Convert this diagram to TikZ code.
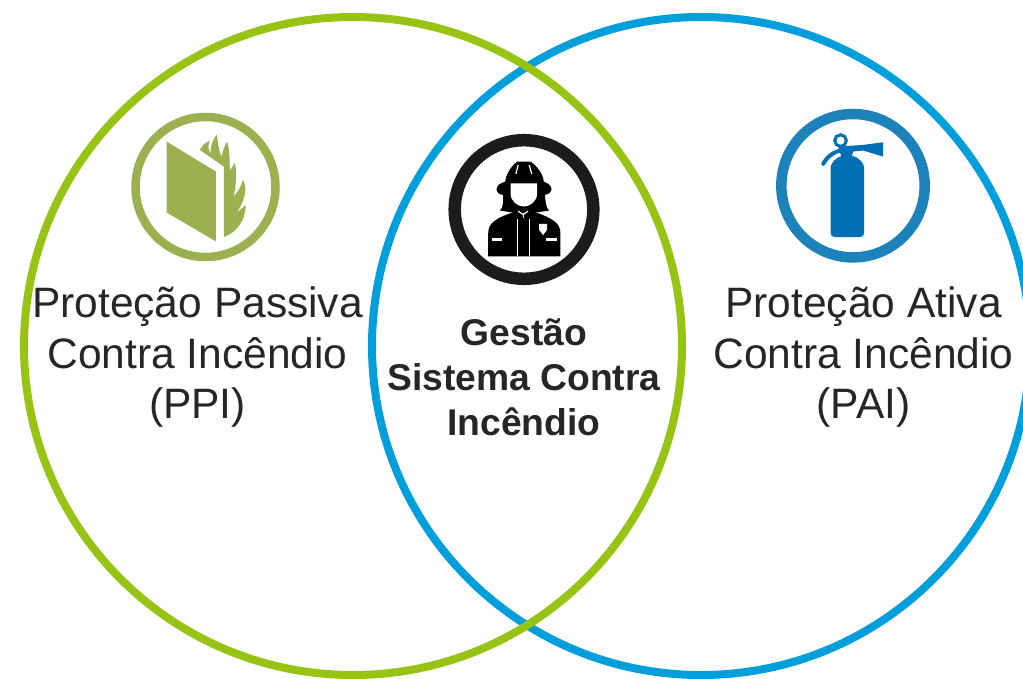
\documentclass[tikz,border=0pt]{standalone}
\usepackage{fontspec}
\setmainfont{Liberation Sans}
\usepackage{xcolor}
\definecolor{ringgreen}{RGB}{151,196,20}
\definecolor{ringblue}{RGB}{0,158,219}
\definecolor{iconolive}{RGB}{155,176,78}
\definecolor{iconblue}{RGB}{30,130,186}
\definecolor{iconblue2}{RGB}{0,112,180}
\definecolor{iconblack}{RGB}{28,28,28}
\definecolor{labeltext}{RGB}{38,38,38}
\tikzset{
    ring/.style={line width=0.08cm},
    sidetext/.style={align=center,font=\fontsize{12.1}{14.5}\selectfont,text=labeltext,inner sep=0pt},
    boldtext/.style={align=center,font=\fontsize{10.6}{12.8}\selectfont\bfseries,text=labeltext,inner sep=0pt},
    iconscale/.style={x=0.003333cm,y=-0.003333cm}
}
\begin{document}
\begin{tikzpicture}
            \useasboundingbox (0,0) rectangle (10.23,6.78);

            \begin{scope}
                \clip (0,0) rectangle (10.23,6.78);
                \draw[ring,draw=ringblue] (7.01,3.32) circle (3.29);
                \draw[ring,draw=ringgreen] (3.53,3.32) circle (3.29);
            \end{scope}

            % passive protection icon
            \draw[line width=0.085cm,draw=iconolive] (2.055,4.91) circle (0.70);
            \begin{scope}[shift={(1.2,5.78)},iconscale]
                \fill[iconolive] (140,125)--(288,215)--(288,425)--(140,338)--cycle;
                \fill[iconolive] (240,150) .. controls (248,135) and (258,128) .. (270,122)
                    .. controls (264,135) and (264,148) .. (272,160)
                    .. controls (272,135) and (280,118) .. (291,104)
                    .. controls (294,125) and (296,150) .. (306,172)
                    .. controls (308,155) and (314,138) .. (322,125)
                    .. controls (330,150) and (330,185) .. (330,212)
                    .. controls (335,205) and (340,198) .. (345,190)
                    .. controls (352,215) and (350,245) .. (342,290)
                    .. controls (355,275) and (365,258) .. (370,240)
                    .. controls (382,265) and (380,290) .. (352,338)
                    .. controls (362,330) and (370,322) .. (378,316)
                    .. controls (378,360) and (350,400) .. (312,412)
                    --(312,200)--cycle;
            \end{scope}

            % firefighter icon
            \draw[line width=0.125cm,draw=iconblack] (5.24,4.685) circle (0.693);
            \begin{scope}[shift={(4.4,5.28)},iconscale]
                % jacket
                \fill[black] (145,320) -- (145,250) .. controls (145,220) and (165,205) .. (232,183)
                    -- (250,192) -- (275,183) .. controls (340,205) and (362,220) .. (362,250)
                    -- (362,320) -- cycle;
                % helmet and hair
                \fill[black] (232,35) -- (272,35) .. controls (295,50) and (310,75) .. (312,95)
                    .. controls (325,100) and (337,108) .. (335,120)
                    .. controls (332,130) and (322,135) .. (315,135)
                    .. controls (318,155) and (318,175) .. (328,182)
                    -- (275,190) -- (232,190) -- (180,182)
                    .. controls (190,175) and (190,155) .. (190,135)
                    .. controls (180,135) and (170,128) .. (170,118)
                    .. controls (170,106) and (182,100) .. (196,95)
                    .. controls (198,75) and (212,50) .. (232,35) -- cycle;
                % face
                \fill[white] (212,100) -- (292,100) -- (292,130)
                    .. controls (292,155) and (270,170) .. (252,170)
                    .. controls (234,170) and (212,155) .. (212,130) -- cycle;
                % details
                \draw[white,line width=0.012cm] (235,45)--(228,72);
                \draw[white,line width=0.012cm] (268,45)--(276,72);
                \draw[white,line width=0.012cm] (235,184)--(250,194)--(265,184);
                \draw[white,line width=0.012cm] (250,194)--(250,204);
                \draw[white,line width=0.012cm] (232,208)--(232,320);
                \draw[white,line width=0.012cm] (270,208)--(270,320);
                \fill[white] (155,265) rectangle (187,275);
                \fill[white] (320,265) rectangle (352,275);
                \fill[white] (298,222)--(322,222)--(322,240)--(310,256)--(298,240)--cycle;
            \end{scope}

            % active protection icon
            \draw[line width=0.105cm,draw=iconblue] (8.53,4.923) circle (0.717);
            \begin{scope}[shift={(7.7,5.78)},iconscale]
                % cylinder
                \fill[iconblue2,rounded corners=0.04cm] (182,215) .. controls (182,190) and (200,170) .. (232,165)
                    .. controls (265,170) and (283,190) .. (283,215) -- (283,412) -- (182,412) -- cycle;
                % head and nozzle
                \fill[iconblue2] (205,140) -- (280,135) -- (340,127) -- (340,170) -- (280,152)
                    -- (250,155) -- (245,172) -- (215,172) -- cycle;
                % handle
                \draw[iconblue2,line width=0.033cm] (212,122) circle (17);
                \fill[white] (212,122) circle (12);
                % hose
                \draw[iconblue2,line width=0.04cm,line cap=round] (160,192) .. controls (172,170) and (190,155) .. (225,148);
            \end{scope}

            \node[sidetext] (ppi) at (1.975,3.21) {Proteção Passiva\\Contra Incêndio\\(PPI)};
            \node[boldtext] (gsci) at (5.24,3.01) {Gestão\\Sistema Contra\\Incêndio};
            \node[sidetext] (pai) at (8.635,3.21) {Proteção Ativa\\Contra Incêndio\\(PAI)};
        \end{tikzpicture}
\end{document}
